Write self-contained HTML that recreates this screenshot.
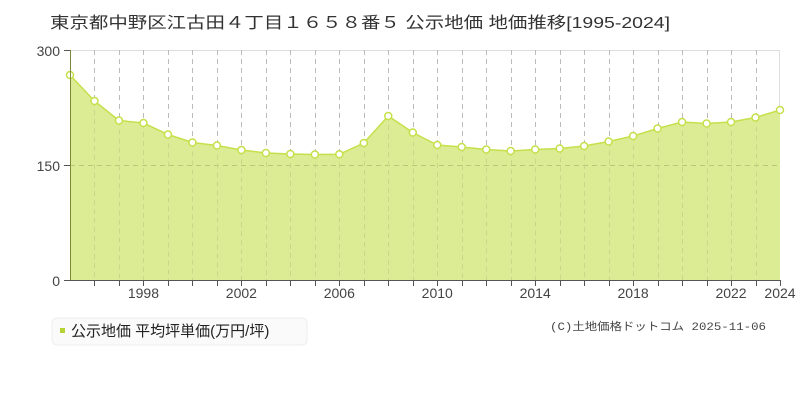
<!DOCTYPE html>
<html><head><meta charset="utf-8"><style>
html,body{margin:0;padding:0;background:#fff;}
svg{display:block;font-family:"Liberation Sans","Noto Sans CJK JP",sans-serif;}
</style></head><body>
<svg width="800" height="400" viewBox="0 0 800 400" xmlns="http://www.w3.org/2000/svg">
<rect width="800" height="400" fill="#fff"/>
<text x="50" y="28" font-size="16" fill="#333" textLength="620" lengthAdjust="spacingAndGlyphs">東京都中野区江古田４丁目１６５８番５ 公示地価 地価推移[1995-2024]</text>
<line x1="70" y1="50.5" x2="780" y2="50.5" stroke="#ddd"/>
<line x1="779.5" y1="50" x2="779.5" y2="280" stroke="#ddd"/>
<g id="grid" stroke="#bbb" stroke-dasharray="5,4" stroke-width="1">
</g>
<path id="area" fill="#dcec94" stroke="none"/>
<line x1="70" y1="165.5" x2="780" y2="165.5" stroke="#b8c878" stroke-dasharray="5,4"/>
<g id="grid2" stroke="#c8d88a" stroke-dasharray="5,4" stroke-width="1"></g>
<polyline id="line" fill="none" stroke="#c5e04a" stroke-width="1.5"/>
<g id="pts"></g>
<line x1="70.5" y1="50" x2="70.5" y2="280" stroke="#7a8a3a"/>
<line x1="70" y1="280.5" x2="780" y2="280.5" stroke="#555"/>
<line x1="64" y1="50.5" x2="70" y2="50.5" stroke="#555"/>
<line x1="64" y1="165.5" x2="70" y2="165.5" stroke="#555"/>
<line x1="64" y1="280.5" x2="70" y2="280.5" stroke="#555"/>
<g font-size="14" fill="#444" text-anchor="end">
<text x="60" y="56">300</text><text x="60" y="171">150</text><text x="60" y="286">0</text>
</g>
<g id="ticks" stroke="#555"></g>
<g font-size="14" fill="#444" text-anchor="middle" id="xl"></g>
<rect x="52" y="318" width="255" height="27" rx="5" fill="#fafafa" stroke="#eee"/>
<rect x="60" y="328" width="5" height="5" fill="#b5d334"/>
<text x="71" y="336" font-size="15" fill="#222">公示地価 平均坪単価(万円/坪)</text>
<text x="550" y="330" font-size="11" fill="#444" font-family="Liberation Mono, Noto Sans CJK JP, monospace" textLength="216" lengthAdjust="spacingAndGlyphs">(C)土地価格ドットコム 2025-11-06</text>
</svg>
<script>
var ys=[75,101,120.5,123,134.5,142.5,145.5,150,153,154,154.5,154.3,143,116,132.5,145,147,149.5,151,149.5,148.5,146,141.5,136,128.5,122,123.5,122,117.5,110];
var ns="http://www.w3.org/2000/svg",dx=710/29;
function el(t,a,p){var e=document.createElementNS(ns,t);for(var k in a)e.setAttribute(k,a[k]);document.getElementById(p).appendChild(e);return e;}
var pts=[],d="M70,280";
for(var i=0;i<30;i++){var x=70+i*dx;pts.push(x+","+ys[i]);d+=" L"+x+","+ys[i];
 if(i>0&&i<29){var xx=Math.round(x)+0.5;el("line",{x1:xx,y1:50,x2:xx,y2:ys[i]},"grid");el("line",{x1:xx,y1:ys[i],x2:xx,y2:280},"grid2");}
 if(i>0){var xt=Math.round(x)+0.5;el("line",{x1:xt,y1:280,x2:xt,y2:286},"ticks");}
}
d+=" L780,280 Z";
document.getElementById("area").setAttribute("d",d);
document.getElementById("line").setAttribute("points",pts.join(" "));
for(var i=0;i<30;i++){el("circle",{cx:70+i*dx,cy:ys[i],r:3.5,fill:"#fff",stroke:"#c5e04a","stroke-width":1.5},"pts");}
[1998,2002,2006,2010,2014,2018,2022,2024].forEach(function(y){var t=el("text",{x:70+(y-1995)*dx,y:298},"xl");t.textContent=y;});
</script>
</body></html>
